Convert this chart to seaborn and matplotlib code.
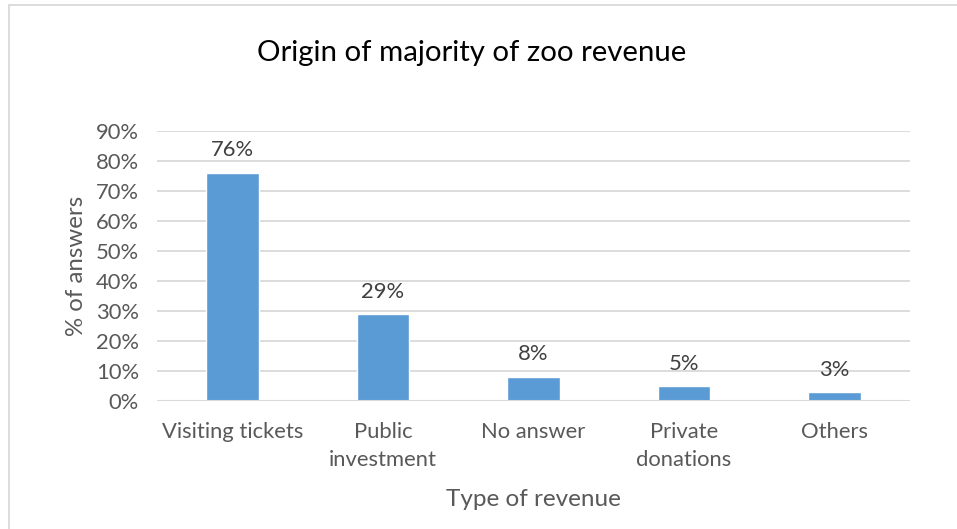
import matplotlib
matplotlib.use("Agg")
import matplotlib.pyplot as plt
from matplotlib.lines import Line2D
import seaborn as sns
import pandas as pd

categories = ["Visiting tickets", "Public\ninvestment", "No answer", "Private\ndonations", "Others"]
values = [76, 29, 8, 5, 3]
y_ticks = [0, 10, 20, 30, 40, 50, 60, 70, 80, 90]
y_tick_labels = [f"{t}%" for t in y_ticks]

sns.set_theme(style="white")
plt.rcParams["font.family"] = ["Lato", "DejaVu Sans"]

W, H = 957, 529
fig = plt.figure(figsize=(W / 100, H / 100), dpi=100)
fig.patch.set_facecolor("white")

left, right, bottom, top = 157, 910, 401, 131
ax = fig.add_axes([left / W, 1 - bottom / H, (right - left) / W, (bottom - top) / H])

df = pd.DataFrame({"category": categories, "value": values})
sns.barplot(data=df, x="category", y="value", color="#5B9BD5", width=0.35,
            saturation=1, ax=ax, zorder=3)

ax.set_ylim(0, 90)
ax.set_xlim(-0.5, len(categories) - 0.5)
ax.set_yticks(y_ticks)
ax.set_yticklabels(y_tick_labels)
ax.yaxis.grid(True, color="#D9D9D9", linewidth=1.3, zorder=0)
ax.set_axisbelow(True)
for s in ax.spines.values():
    s.set_visible(False)
ax.axhline(0, color="#D9D9D9", linewidth=1.5, zorder=4)

ax.tick_params(axis="both", length=0, labelsize=15.8, colors="#595959")
ax.tick_params(axis="y", pad=13)
ax.tick_params(axis="x", pad=15)
for lbl in ax.get_xticklabels():
    lbl.set_linespacing(1.5)

for container in ax.containers:
    ax.bar_label(container, labels=[f"{v}%" for v in values], padding=9,
                 fontsize=15.8, color="#404040")

ax.set_xlabel("Type of revenue", fontsize=17.5, color="#595959", labelpad=14)
ax.set_ylabel("% of answers", fontsize=17.3, color="#595959", labelpad=6)

fig.text(472 / W, 1 - 53 / H, "Origin of majority of zoo revenue", ha="center",
         va="center", fontsize=21.2, color="#000000")

# chart frame
fig.add_artist(Line2D([8.5 / W, 8.5 / W], [0, 1 - 4.5 / H], color="#D9D9D9", linewidth=1.3,
                      transform=fig.transFigure))
fig.add_artist(Line2D([8.5 / W, 1], [1 - 4.5 / H, 1 - 4.5 / H], color="#D9D9D9", linewidth=1.3,
                      transform=fig.transFigure))

fig.savefig("out.png", dpi=100, facecolor="white")
